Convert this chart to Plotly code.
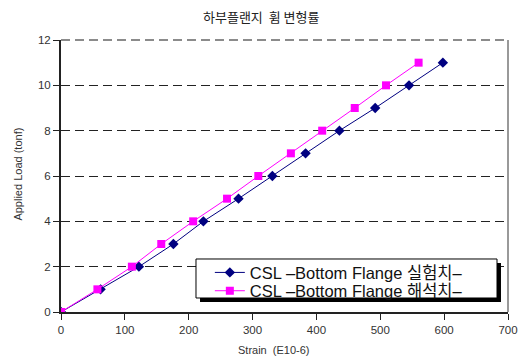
import plotly.graph_objects as go

load = [0, 1, 2, 3, 4, 5, 6, 7, 8, 9, 10, 11]
strain_test = [0, 62, 122, 176, 223, 278, 331, 383, 436, 492, 545, 598]
strain_fem = [0, 57, 111, 157, 207, 260, 309, 360, 409, 460, 509, 560]
name_test = "CSL –Bottom Flange 실험치–"
name_fem = "CSL –Bottom Flange 해석치–"
x_ticks = [0, 100, 200, 300, 400, 500, 600, 700]
y_ticks = [0, 2, 4, 6, 8, 10, 12]
title_text = "하부플랜지  휨 변형률"
x_title = "Strain  (E10-6)"
y_title = "Applied Load (tonf)"

FONT = "Liberation Sans, Arial, Noto Sans CJK KR, sans-serif"

fig = go.Figure()
fig.add_trace(go.Scatter(x=strain_test, y=load, mode="lines+markers", name=name_test,
                         line=dict(color="#000080", width=1),
                         marker=dict(symbol="diamond", size=8, color="#000080"),
                         legend="legend"))
fig.add_trace(go.Scatter(x=strain_fem, y=load, mode="lines+markers", name=name_fem,
                         line=dict(color="#FF00FF", width=1),
                         marker=dict(symbol="square", size=8, color="#FF00FF"),
                         legend="legend2"))

leg_common = dict(xref="paper", yref="paper", xanchor="left", yanchor="middle",
                  bgcolor="rgba(0,0,0,0)", borderwidth=0,
                  font=dict(size=16.5, family=FONT, color="#111111"), itemwidth=30)

# page has an 8px body margin, so the figure is 520x353
fig.update_layout(
    width=520, height=353,
    margin=dict(l=53, r=20, t=32, b=49),
    paper_bgcolor="white", plot_bgcolor="white",
    font=dict(family=FONT, color="#333333", size=11.5),
    title=dict(text=title_text, x=0.487, xanchor="center", y=0.972, yanchor="middle",
               font=dict(size=13, family="Noto Sans CJK KR, sans-serif", color="#222222")),
    showlegend=True,
    legend=dict(x=0.333, y=0.1445, **leg_common),
    legend2=dict(x=0.333, y=0.0772, **leg_common),
    xaxis=dict(range=[0, 700], tickvals=x_ticks, automargin=False,
               showgrid=False, zeroline=False, showline=True, linecolor="#222222", linewidth=2,
               ticks="outside", ticklen=6, tickcolor="#222222"),
    yaxis=dict(range=[0, 12], tickvals=y_ticks, automargin=False,
               showgrid=True, gridcolor="#222222", griddash="9px,5px", gridwidth=1,
               zeroline=False, showline=True, linecolor="#222222", linewidth=2,
               ticks="outside", ticklen=6, tickcolor="#222222"),
)

# axis titles
fig.add_annotation(text=x_title, xref="paper", yref="paper", x=0.4754, y=-0.1397,
                   xanchor="center", yanchor="middle", showarrow=False,
                   font=dict(size=11, color="#333333", family=FONT))
fig.add_annotation(text=y_title, xref="paper", yref="paper", x=-0.0951, y=0.507,
                   xanchor="center", yanchor="middle", showarrow=False, textangle=-90,
                   font=dict(size=11, color="#333333", family=FONT))

# top border (dashed gray) and right border (solid gray) of plot area
fig.add_shape(type="line", xref="paper", yref="paper", x0=0, x1=1, y0=1, y1=1,
              line=dict(color="#666666", width=1.5, dash="9px,5px"), layer="above")
fig.add_shape(type="line", xref="paper", yref="paper", x0=1, x1=1, y0=0, y1=1,
              line=dict(color="#777777", width=1.5), layer="above")
# legend shadow and box
fig.add_shape(type="rect", xref="paper", yref="paper",
              x0=0.311, x1=0.9843, y0=0.0368, y1=0.180,
              fillcolor="black", line=dict(width=0), layer="above")
fig.add_shape(type="rect", xref="paper", yref="paper",
              x0=0.302, x1=0.9754, y0=0.0515, y1=0.1949,
              fillcolor="white", line=dict(color="black", width=1), layer="above")

fig.write_html("out.html")
